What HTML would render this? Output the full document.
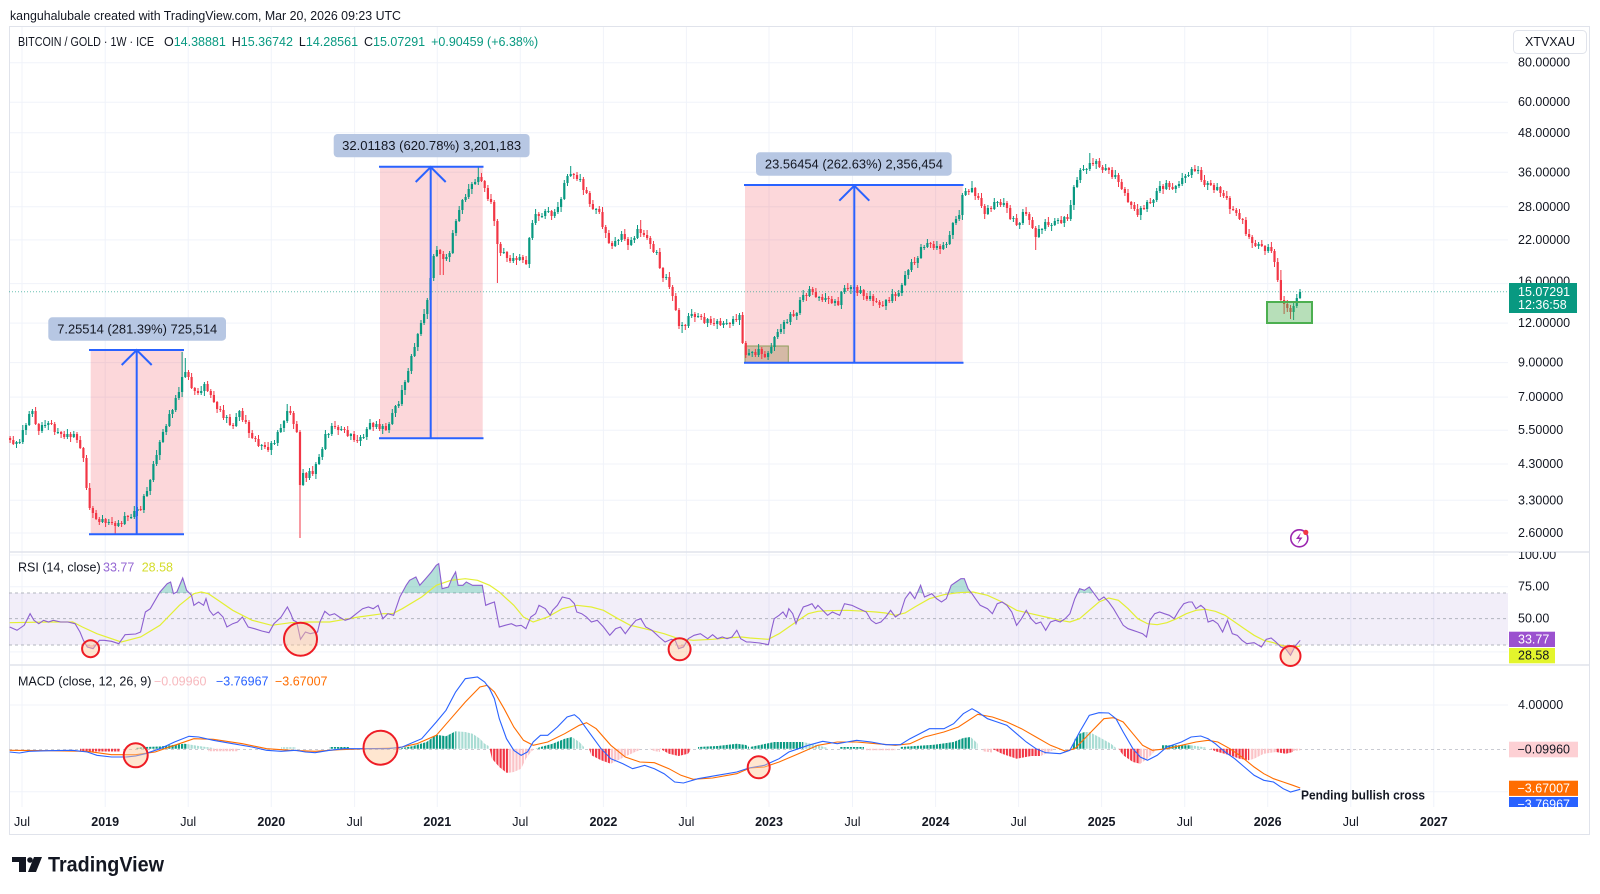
<!DOCTYPE html>
<html><head><meta charset="utf-8">
<style>
html,body{margin:0;padding:0;background:#fff;}
svg{display:block;font-family:"Liberation Sans",Arial,sans-serif;}
</style></head><body>
<svg width="1600" height="894" viewBox="0 0 1600 894" xmlns="http://www.w3.org/2000/svg">
<defs>
<clipPath id="cpRsi"><rect x="9" y="552" width="1499" height="113"/></clipPath>
<clipPath id="cpMacd"><rect x="9" y="665" width="1499" height="142"/></clipPath>
<clipPath id="cpAbove"><rect x="9" y="552" width="1499" height="41"/></clipPath>
<clipPath id="cpBelow"><rect x="9" y="645" width="1499" height="20"/></clipPath>
<clipPath id="cpAxisR"><rect x="1500" y="552" width="100" height="255"/></clipPath>
<pattern id="hG" x="9" y="0" width="3.185" height="20" patternUnits="userSpaceOnUse"><rect width="2.2" height="20" fill="#089981"/></pattern>
<pattern id="hGl" x="9" y="0" width="3.185" height="20" patternUnits="userSpaceOnUse"><rect width="2.2" height="20" fill="#a8dcd3"/></pattern>
<pattern id="hR" x="9" y="0" width="3.185" height="20" patternUnits="userSpaceOnUse"><rect width="2.2" height="20" fill="#f23645"/></pattern>
<pattern id="hRl" x="9" y="0" width="3.185" height="20" patternUnits="userSpaceOnUse"><rect width="2.2" height="20" fill="#fbc3c7"/></pattern>
<path id="rsiP" d="M9.7 627L17 630.3L24.2 625.3L30.1 613.7L33.9 620.3L38.8 623.7L43.6 620.3L48.5 622L53.3 620.3L60.6 622L67.9 622L75.1 623.7L80 632L83.4 640.3L87.3 647L93.1 648.7L99.4 640.3L104.2 640.3L111.5 641.3L118.8 643.7L125.1 634.7L135.7 634L140.6 632L145.4 612L150.3 608.7L160 592L167.2 583.7L170.6 582L173.5 593.7L176.9 592L182.7 578L186.6 590.3L191.5 595.3L193.9 605.3L198.7 602L203.6 605.3L206 598.7L209.4 610.3L213.3 615.3L218.1 612L223 617L226.9 627L232.7 623.7L237.5 622L242.4 617L248.2 627L254.5 628.7L261.8 631L269 632.7L273.9 623.7L281.1 617L287.4 607L290.8 613.7L293.3 620.3L296.7 622L300.5 639.3L305.4 632L310.2 633.7L317.5 632L319.9 622L324.8 611.3L329.6 615.3L334.5 613.7L339.3 617L345.1 620.3L350 618.7L356.3 613.7L362.6 608.7L368.4 607L373.2 608.7L378.1 605.3L382.9 618.7L387.8 613.7L393.6 615.3L399.9 597L406.2 585.3L409.6 580.3L415.9 577L419.8 585.3L425.6 578.7L431.4 572L436.3 565.3L438.7 563.7L442.1 588.7L448.4 587L451.8 578.7L455.6 572L458.1 585.3L462.9 585.3L466.3 582L472.6 585.3L477.5 585.3L482.3 585.3L485.7 605.3L489.6 603.7L494.4 602L499.3 627L505.1 625.3L511.4 623.7L516.2 626L521.1 625.3L525.9 628.7L530.8 617L535.6 613.7L539 605.3L545.3 608.7L550.2 615.3L552.6 610.3L557.4 605.3L562.3 597L569.6 598.7L574.4 603.7L576.8 612L581.7 613.7L586.5 617L591.4 622L597.2 620.3L603.5 627L609.8 635.3L615.6 628.7L620.5 627L625.3 633.7L630.2 627L636 620.3L640.8 618.7L645.7 627L652 630.3L659.2 637L665.1 642L671.4 639.3L675.2 640.3L678.6 648.7L683.5 647L688.3 638.7L694.1 635.3L700.4 633.7L707.7 638.7L712.6 634.7L717.4 638.7L722.3 637L727.1 638.7L732 637L736.8 630.3L740.7 638.7L746.5 642L750 642L759.7 643L768.4 644.7L771.8 628.7L774.2 618.7L779.1 615.3L783 612L786.4 617L788.8 608.7L792.7 613.7L796 623.7L798.5 617L803.3 607L808.2 605.3L812 603.7L815.4 608.7L817.9 605.3L822.7 610.3L827.6 615.3L832.4 612L839.7 615.3L844.5 603.7L851.8 605.3L859.1 608.7L866.3 612L871.2 620.3L876 623.7L880.9 622L885.7 617L890.6 610.3L895.4 617L900.3 613.7L905.1 598.7L910 592L914.8 598.7L920.6 585.3L924.5 597L931.8 593.7L936.6 598.7L941.5 602L946.3 598.7L951.2 585.3L956 582L960.9 578.7L964.3 578.7L968.1 588.7L972 593.7L975.4 598.7L980.2 605.3L987.5 608.7L992.4 613.7L997.2 603.7L1002.1 602L1006.9 605.3L1011.8 612L1016.6 625.3L1021.5 618.7L1026.3 610.3L1031.1 618.7L1036 623.7L1040.8 622L1045.7 630.3L1050.5 622L1055.4 620.3L1060.2 622L1065.1 618.7L1069.9 613.7L1074.8 598.7L1079.6 588.7L1084.5 590.3L1089.3 587L1094.2 593.7L1099 600.3L1103.9 597L1108.7 602L1113.5 608.7L1118.4 617L1123.2 625.3L1128.1 628.7L1132.9 630.3L1137.8 632L1142.6 633.7L1146.5 637L1149.9 620.3L1154.7 613.7L1159.6 612L1164.4 613.7L1169.3 615.3L1174.1 618.7L1179 610.3L1183.8 603.7L1188.7 602L1192.1 602L1196 608.7L1200.8 605.3L1204.7 608.7L1208.1 622L1212.9 620.3L1217.8 623.7L1222.6 632L1227.5 620.3L1232.3 633.7L1237.2 635.3L1242 640.3L1246.8 643.7L1254.1 642.7L1261.4 647L1266.2 639.3L1271.1 638L1275.9 642L1280.8 647L1285.6 648.7L1290.5 655.3L1295.3 646L1300.2 640.3"/>
</defs>
<rect width="1600" height="894" fill="#fff"/>

<text x="10" y="15.5" font-size="13" fill="#131722" dominant-baseline="central" textLength="391" lengthAdjust="spacingAndGlyphs">kanguhalubale created with TradingView.com, Mar 20, 2026 09:23 UTC</text>

<!-- grid -->
<path fill="none" stroke="#f0f3fa" stroke-width="1" d="M22 27V807M105.2 27V807M188.2 27V807M271.3 27V807M354.6 27V807M437.3 27V807M520.3 27V807M603.4 27V807M686.4 27V807M769 27V807M852.5 27V807M935.6 27V807M1018.6 27V807M1101.6 27V807M1184.7 27V807M1267.7 27V807M1350.8 27V807M1433.8 27V807M9 62.7H1508M9 102.2H1508M9 132.8H1508M9 172.3H1508M9 206.8H1508M9 239.9H1508M9 283.6H1508M9 323.1H1508M9 362.6H1508M9 397.1H1508M9 430.2H1508M9 464H1508M9 500.3H1508M9 533H1508M9 555H1508M9 586.7H1508M9 651.9H1508M9 705H1508M9 791.8H1508"/>

<rect x="9.5" y="26.5" width="1580" height="808" fill="none" stroke="#e0e3eb" stroke-width="1"/>
<line x1="9" y1="552" x2="1590" y2="552" stroke="#e0e3eb" stroke-width="1.5"/>
<line x1="9" y1="665" x2="1590" y2="665" stroke="#e0e3eb" stroke-width="1.5"/>

<!-- measurement boxes -->
<rect x="90.7" y="350" width="92.6" height="184.3" fill="rgba(242,54,69,0.2)"/>
<rect x="380" y="166.7" width="102.7" height="271.6" fill="rgba(242,54,69,0.2)"/>
<rect x="745" y="185" width="217.7" height="177.7" fill="rgba(242,54,69,0.2)"/>
<rect x="745" y="346" width="43.3" height="16.7" fill="rgba(140,130,70,0.35)" stroke="#8f9d5a" stroke-width="1"/>
<line x1="9" y1="291.8" x2="1508" y2="291.8" stroke="#089981" stroke-width="1" stroke-dasharray="1,2" opacity="0.6"/>

<!-- candles -->
<path fill="none" stroke="#089981" stroke-width="1" d="M16.5 441V448M19.7 439V444M22.8 425V444M26 423V435M29.2 411V426M32.4 409V417M42 422V433M45.1 420V428M48.3 421V430M57.9 428V434M67.4 429V439M73.8 431V438M102.5 515V523M108.8 519V525M118.4 520V527M124.7 512V525M131.1 514V519M134.3 506V519M137.5 507V516M143.9 494V513M147 487V497M150.2 479V495M153.4 461V482M156.6 450V466M159.8 440V460M163 429V443M166.2 424V435M169.4 410V427M172.5 409V418M175.7 395V412M178.9 387V400M182.1 352V397M185.3 358V378M201.2 386V395M204.4 382V396M226.7 415V423M236.2 413V427M239.4 410V421M261.7 444V450M271.3 441V455M274.5 440V445M277.7 430V446M280.8 424V433M284 420V432M287.2 404V423M303.1 469V486M309.5 468V480M315.9 462V479M319.1 454V465M322.3 447V460M325.4 430V450M328.6 433V438M331.8 423V436M341.3 426V431M350.9 433V440M360.5 435V446M363.6 434V439M366.8 427V440M370 419V430M376.4 421V429M382.7 424V434M389.1 422V433M392.3 409V425M395.5 405V417M398.7 401V408M401.9 385V406M405 380V395M408.2 368V383M411.4 354V374M414.6 343V357M417.8 333V351M421 320V336M424.1 309V325M427.3 298V319M430.5 275V301M433.7 254V281M436.9 246V257M446.4 254V261M449.6 251V262M452.8 230V254M456 219V236M459.2 206V222M462.4 199V214M465.6 194V202M468.7 184V199M471.9 182V194M475.1 179V185M478.3 167V185M503.8 248V254M513.3 253V263M519.7 254V261M529.3 237V268M532.4 220V240M535.6 209V225M542 213V218M545.2 209V219M548.4 207V213M554.7 209V218M557.9 202V214M561.1 197V212M564.3 180V200M567.5 174V186M570.7 166V177M580.2 174V182M596.1 208V214M615.2 237V247M618.4 239V245M621.6 231V242M631.2 237V246M634.4 236V243M637.5 225V239M656.7 250V255M666.2 274V280M682.1 322V333M688.5 313V328M691.7 309V318M698.1 313V318M707.6 318V327M717.2 319V329M723.5 321V328M726.7 319V325M733.1 316V326M739.5 313V325M749 349V356M752.2 351V357M758.6 344V357M768.1 351V360M771.3 343V354M774.5 336V351M777.7 329V339M780.9 324V334M784 320V334M787.2 319V324M790.4 312V325M796.8 312V320M800 297V315M803.2 290V302M809.5 286V297M819.1 296V301M825.5 293V302M835 299V306M841.4 291V309M844.6 285V294M850.9 285V294M860.5 286V294M870.1 291V301M886 299V310M892.3 289V303M898.7 290V297M901.9 283V296M905.1 271V286M908.3 269V279M911.5 259V272M917.8 256V268M921 244V259M924.2 245V250M927.4 239V248M936.9 241V250M943.3 242V250M946.5 242V248M949.7 231V245M952.9 222V239M956 216V225M959.2 210V221M962.4 193V220M965.6 188V196M972 181V193M987.9 205V215M994.3 198V210M997.5 201V207M1003.8 198V207M1013.4 216V222M1019.7 222V229M1022.9 209V225M1038.9 225V238M1042 228V234M1045.2 219V231M1051.6 223V231M1054.8 218V226M1058 218V224M1064.3 216V227M1070.7 200V221M1073.9 185V210M1077.1 177V188M1080.3 168V183M1083.5 165V171M1086.6 168V174M1089.8 153V171M1096.2 159V169M1105.7 164V171M1115.3 170V179M1140.8 206V220M1147.1 200V212M1153.5 199V207M1156.7 188V202M1159.9 181V193M1166.3 180V190M1175.8 185V193M1179 181V188M1182.2 173V186M1185.4 174V183M1188.5 172V177M1191.7 167V178M1198.1 166V174M1207.7 181V190M1217.2 183V191M1258.6 242V249M1268.2 244V253M1293.6 303V320M1296.8 294V308M1300 289V299"/>
<path fill="none" stroke="#089981" stroke-width="2.2" d="M16.5 444V442M19.7 442V443M22.8 442V430M26 430V425M29.2 425V414M32.4 414V411M42 431V425M45.1 425V426M48.3 425V423M57.9 432V433M67.4 437V434M73.8 437V434M102.5 522V519M108.8 523V522M118.4 526V523M124.7 524V516M131.1 517V518M134.3 517V511M137.5 511V509M143.9 510V496M147 496V491M150.2 491V480M153.4 480V464M156.6 464V455M159.8 455V442M163 442V432M166.2 432V426M169.4 426V414M172.5 414V410M175.7 410V398M178.9 398V392M182.1 392V377M185.3 377V372M201.2 393V391M204.4 391V384M226.7 418V417M236.2 426V417M239.4 417V411M261.7 446V445M271.3 450V443M274.5 443V444M277.7 443V432M280.8 432V428M284 428V421M287.2 421V411M303.1 485V473M309.5 478V471M315.9 474V464M319.1 464V457M322.3 457V449M325.4 449V434M328.6 434V435M331.8 434V426M341.3 430V429M350.9 436V434M360.5 441V437M363.6 437V438M366.8 437V429M370 429V423M376.4 427V424M382.7 429V426M389.1 430V424M392.3 424V413M395.5 413V406M398.7 406V404M401.9 404V390M405 390V382M408.2 382V371M411.4 371V356M414.6 356V347M417.8 347V334M421 334V323M424.1 323V314M427.3 314V300M430.5 300V278M433.7 278V256M436.9 256V250M446.4 259V257M449.6 257V253M452.8 253V233M456 233V221M459.2 221V210M462.4 210V200M465.6 200V197M468.7 197V189M471.9 189V184M475.1 184V182M478.3 182V177M503.8 253V252M513.3 261V258M519.7 260V257M529.3 264V238M532.4 238V223M535.6 223V214M542 216V217M545.2 216V211M548.4 211V212M554.7 216V212M557.9 212V207M561.1 207V199M564.3 199V183M567.5 183V176M570.7 176V174M580.2 179V180M596.1 209V210M615.2 246V241M618.4 241V240M621.6 240V234M631.2 245V240M634.4 240V238M637.5 238V229M656.7 252V253M666.2 278V277M682.1 326V325M688.5 326V316M691.7 316V314M698.1 317V316M707.6 323V319M717.2 324V321M723.5 325V323M726.7 323V324M733.1 324V319M739.5 320V315M749 355V353M752.2 353V352M758.6 355V349M768.1 357V353M771.3 353V347M774.5 347V337M777.7 337V332M780.9 332V329M784 329V322M787.2 322V323M790.4 322V314M796.8 316V313M800 313V300M803.2 300V295M809.5 296V289M819.1 297V298M825.5 300V298M835 303V301M841.4 305V292M844.6 292V288M850.9 289V287M860.5 293V290M870.1 299V296M886 306V300M892.3 301V294M898.7 296V293M901.9 293V285M905.1 285V275M908.3 275V270M911.5 270V262M917.8 263V258M921 258V247M924.2 247V248M927.4 247V243M936.9 248V246M943.3 249V245M946.5 245V244M949.7 244V235M952.9 235V223M956 223V219M959.2 219V215M962.4 215V195M965.6 195V191M972 192V188M987.9 214V208M994.3 209V202M997.5 202V203M1003.8 205V203M1013.4 219V218M1019.7 225V223M1022.9 223V212M1038.9 237V229M1042 229V230M1045.2 229V222M1051.6 225V226M1054.8 225V221M1058 221V220M1064.3 223V217M1070.7 219V205M1073.9 205V187M1077.1 187V180M1080.3 180V170M1083.5 170V169M1086.6 169V170M1089.8 169V163M1096.2 164V161M1105.7 170V168M1115.3 177V175M1140.8 215V208M1147.1 209V202M1153.5 203V200M1156.7 200V191M1159.9 191V186M1166.3 189V183M1175.8 189V186M1179 186V184M1182.2 184V178M1185.4 178V176M1188.5 176V175M1191.7 175V169M1198.1 171V170M1207.7 185V183M1217.2 190V187M1258.6 246V244M1268.2 251V247M1293.6 312V306M1296.8 306V298M1300 298V292"/>
<path fill="none" stroke="#f23645" stroke-width="1" d="M10.1 436V443M13.3 436V445M35.6 407V425M38.8 423V435M51.5 420V425M54.7 422V435M61.1 431V438M64.2 431V439M70.6 432V442M77 432V443M80.2 436V449M83.4 447V462M86.5 455V490M89.7 483V510M92.9 506V518M96.1 510V520M99.3 517V525M105.6 518V527M112 517V525M115.2 521V534M121.6 521V527M127.9 515V521M140.7 506V511M188.5 370V380M191.6 373V389M194.8 387V395M198 388V395M207.6 381V392M210.8 389V398M213.9 391V403M217.1 401V413M220.3 406V412M223.5 405V420M229.9 414V426M233.1 423V429M242.6 408V422M245.8 415V424M249 420V438M252.2 430V439M255.4 436V442M258.5 435V447M264.9 442V449M268.1 442V452M290.4 406V415M293.6 411V429M296.8 421V433M300 430V538M306.3 472V482M312.7 466V476M335 421V429M338.2 425V435M344.5 427V433M347.7 426V437M354.1 431V442M357.3 435V443M373.2 422V431M379.6 419V431M385.9 423V431M440.1 249V275M443.3 251V275M481.5 173V182M484.7 180V192M487.9 185V201M491 194V204M494.2 200V226M497.4 219V283M500.6 242V256M507 251V262M510.1 255V263M516.5 256V265M522.9 255V263M526.1 256V265M538.8 212V221M551.6 210V220M573.8 173V179M577 172V181M583.4 177V195M586.6 187V194M589.8 191V207M592.9 200V210M599.3 206V214M602.5 207V229M605.7 225V238M608.9 230V244M612.1 241V249M624.8 229V241M628 237V250M640.7 220V237M643.9 230V237M647.1 230V240M650.3 236V249M653.5 241V253M659.8 248V269M663 267V282M669.4 272V289M672.6 285V301M675.8 293V311M679 308V329M685.3 324V330M694.9 312V322M701.2 314V320M704.4 313V324M710.8 316V325M714 318V326M720.4 318V326M729.9 322V328M736.3 314V322M742.6 312V344M745.8 341V358M755.4 349V357M761.8 347V359M764.9 351V358M793.6 310V317M806.4 293V301M812.7 287V295M815.9 288V298M822.3 294V302M828.6 296V304M831.8 296V304M838.2 297V306M847.8 283V291M854.1 227V327M857.3 285V296M863.7 289V300M866.9 293V301M873.2 294V306M876.4 298V303M879.6 300V308M882.8 301V307M889.2 297V303M895.5 292V301M914.6 257V265M930.6 242V248M933.7 241V250M940.1 244V254M968.8 189V195M975.2 187V200M978.3 193V200M981.5 193V208M984.7 204V219M991.1 206V212M1000.6 199V207M1007 201V213M1010.2 205V220M1016.6 214V226M1026.1 207V216M1029.3 212V225M1032.5 217V229M1035.7 226V250M1048.4 217V227M1061.2 216V224M1067.5 214V221M1093 158V166M1099.4 158V168M1102.6 165V173M1108.9 167V174M1112.1 167V179M1118.5 173V187M1121.7 179V190M1124.9 187V196M1128 189V203M1131.2 201V209M1134.4 202V211M1137.6 204V217M1144 205V210M1150.3 198V204M1163.1 184V194M1169.4 181V190M1172.6 183V190M1194.9 165V172M1201.3 167V182M1204.5 175V187M1210.8 180V186M1214 183V193M1220.4 186V197M1223.6 190V198M1226.8 191V200M1229.9 196V214M1233.1 206V211M1236.3 208V216M1239.5 209V220M1242.7 218V224M1245.9 217V236M1249.1 229V239M1252.2 235V248M1255.4 240V247M1261.8 240V247M1265 245V255M1271.4 242V253M1274.5 249V267M1277.7 258V282M1280.9 270V303M1284.1 296V314M1287.3 300V312M1290.5 305V319"/>
<path fill="none" stroke="#f23645" stroke-width="2.2" d="M10.1 438V440M13.3 440V444M35.6 411V424M38.8 424V431M51.5 423V424M54.7 424V432M61.1 432V434M64.2 434V437M70.6 434V437M77 434V440M80.2 440V448M83.4 448V458M86.5 458V488M89.7 488V508M92.9 508V513M96.1 513V519M99.3 519V522M105.6 519V523M112 522V523M115.2 523V526M121.6 523V524M127.9 516V517M140.7 509V510M188.5 372V377M191.6 377V388M194.8 388V391M198 391V393M207.6 384V391M210.8 391V395M213.9 395V402M217.1 402V409M220.3 409V410M223.5 410V418M229.9 417V425M233.1 425V426M242.6 411V420M245.8 420V422M249 422V433M252.2 433V438M255.4 438V439M258.5 439V446M264.9 445V447M268.1 447V450M290.4 411V413M293.6 413V424M296.8 424V432M300 432V485M306.3 473V478M312.7 471V474M335 426V427M338.2 427V430M344.5 429V430M347.7 430V436M354.1 434V440M357.3 440V441M373.2 423V427M379.6 424V429M385.9 426V430M440.1 250V254M443.3 254V259M481.5 177V181M484.7 181V188M487.9 188V199M491 199V202M494.2 202V221M497.4 221V244M500.6 244V253M507 252V258M510.1 258V261M516.5 258V260M522.9 257V260M526.1 260V264M538.8 214V216M551.6 211V216M573.8 174V175M577 175V179M583.4 179V190M586.6 190V193M589.8 193V204M592.9 204V209M599.3 209V212M602.5 212V227M605.7 227V233M608.9 233V243M612.1 243V246M624.8 234V239M628 239V245M640.7 229V233M643.9 233V235M647.1 235V238M650.3 238V244M653.5 244V252M659.8 252V268M663 268V278M669.4 277V287M672.6 287V296M675.8 296V310M679 310V326M685.3 325V326M694.9 314V317M701.2 316V317M704.4 317V323M710.8 319V323M714 323V324M720.4 321V325M729.9 323V324M736.3 319V320M742.6 315V343M745.8 343V355M755.4 352V355M761.8 349V354M764.9 354V357M793.6 314V316M806.4 295V296M812.7 289V292M815.9 292V297M822.3 297V300M828.6 298V299M831.8 299V303M838.2 301V305M847.8 288V289M854.1 287V289M857.3 287V293M863.7 290V296M866.9 296V299M873.2 296V301M876.4 301V302M879.6 302V305M882.8 305V306M889.2 300V301M895.5 294V296M914.6 262V263M930.6 243V244M933.7 244V248M940.1 246V249M968.8 191V192M975.2 188V196M978.3 196V198M981.5 198V206M984.7 206V214M991.1 208V209M1000.6 202V205M1007 203V208M1010.2 208V219M1016.6 218V225M1026.1 212V214M1029.3 214V220M1032.5 220V228M1035.7 228V237M1048.4 222V225M1061.2 220V223M1067.5 217V219M1093 163V164M1099.4 161V167M1102.6 167V170M1108.9 168V170M1112.1 170V177M1118.5 175V182M1121.7 182V189M1124.9 189V193M1128 193V202M1131.2 202V205M1134.4 205V209M1137.6 209V215M1144 208V209M1150.3 202V203M1163.1 186V189M1169.4 183V187M1172.6 187V189M1194.9 169V171M1201.3 170V180M1204.5 180V185M1210.8 183V185M1214 185V190M1220.4 187V193M1223.6 193V196M1226.8 196V198M1229.9 198V209M1233.1 209V210M1236.3 210V213M1239.5 213V219M1242.7 219V220M1245.9 220V234M1249.1 234V237M1252.2 237V243M1255.4 243V246M1261.8 244V246M1265 246V251M1271.4 247V251M1274.5 251V262M1277.7 262V280M1280.9 280V300M1284.1 300V304M1287.3 304V308M1290.5 308V312"/>

<rect x="1267" y="302" width="45" height="21" fill="rgba(76,175,80,0.4)" stroke="#4caf50" stroke-width="2"/>

<!-- measurement lines -->
<g stroke="#2962ff" stroke-width="2" fill="none">
<line x1="89" y1="350" x2="184" y2="350"/><line x1="89" y1="534.3" x2="184" y2="534.3"/>
<line x1="136.7" y1="534.3" x2="136.7" y2="351"/><polyline points="121.7,365 136.7,350 151.7,365"/>
<line x1="379" y1="166.7" x2="483.5" y2="166.7"/><line x1="379" y1="438.3" x2="483.5" y2="438.3"/>
<line x1="430.7" y1="438.3" x2="430.7" y2="168"/><polyline points="415.7,182 430.7,167 445.7,182"/>
<line x1="744" y1="185" x2="963.5" y2="185"/><line x1="744" y1="362.7" x2="963.5" y2="362.7"/>
<line x1="854.3" y1="362.7" x2="854.3" y2="186.5"/><polyline points="839.3,200.7 854.3,185.7 869.3,200.7"/>
</g>
<g font-size="13" fill="#131722">
<rect x="48.3" y="317.3" width="177.7" height="23.4" rx="4" fill="#b7c7e3"/>
<text x="137.2" y="329" text-anchor="middle" dominant-baseline="central" textLength="160" lengthAdjust="spacingAndGlyphs">7.25514 (281.39%) 725,514</text>
<rect x="333.7" y="134" width="195.9" height="23.3" rx="4" fill="#b7c7e3"/>
<text x="431.6" y="145.7" text-anchor="middle" dominant-baseline="central" textLength="179" lengthAdjust="spacingAndGlyphs">32.01183 (620.78%) 3,201,183</text>
<rect x="756" y="152.3" width="195.7" height="23.4" rx="4" fill="#b7c7e3"/>
<text x="853.9" y="164" text-anchor="middle" dominant-baseline="central" textLength="178" lengthAdjust="spacingAndGlyphs">23.56454 (262.63%) 2,356,454</text>
</g>

<!-- legend -->
<g font-size="12.5" dominant-baseline="central">
<text x="18" y="42" fill="#131722" textLength="136" lengthAdjust="spacingAndGlyphs">BITCOIN / GOLD · 1W · ICE</text>
<text x="164" y="42" fill="#131722">O</text><text x="173.7" y="42" fill="#089981">14.38881</text>
<text x="231.8" y="42" fill="#131722">H</text><text x="240.8" y="42" fill="#089981">15.36742</text>
<text x="298.9" y="42" fill="#131722">L</text><text x="305.9" y="42" fill="#089981">14.28561</text>
<text x="364" y="42" fill="#131722">C</text><text x="373" y="42" fill="#089981">15.07291</text>
<text x="431.1" y="42" fill="#089981">+0.90459 (+6.38%)</text>
</g>

<rect x="1513.5" y="30.5" width="73" height="23" rx="4" fill="#fff" stroke="#e0e3eb"/>
<text x="1550" y="42" font-size="12.5" fill="#131722" text-anchor="middle" dominant-baseline="central">XTVXAU</text>

<!-- price axis -->
<g font-size="12.5" fill="#131722" dominant-baseline="central">
<text x="1518" y="62.7">80.00000</text>
<text x="1518" y="102.2">60.00000</text>
<text x="1518" y="132.8">48.00000</text>
<text x="1518" y="172.3">36.00000</text>
<text x="1518" y="206.8">28.00000</text>
<text x="1518" y="239.9">22.00000</text>
<text x="1518" y="281.6">16.00000</text>
<text x="1518" y="323.1">12.00000</text>
<text x="1518" y="362.6">9.00000</text>
<text x="1518" y="397.1">7.00000</text>
<text x="1518" y="430.2">5.50000</text>
<text x="1518" y="464">4.30000</text>
<text x="1518" y="500.3">3.30000</text>
<text x="1518" y="533">2.60000</text>
</g>
<rect x="1509" y="283" width="68" height="30" fill="#089981"/>
<text x="1518" y="292" font-size="12.5" fill="#fff" dominant-baseline="central">15.07291</text>
<text x="1518" y="305" font-size="12.5" fill="#fff" dominant-baseline="central">12:36:58</text>

<circle cx="1299.3" cy="538.3" r="8.5" fill="#fff" stroke="#9c27b0" stroke-width="1.6"/>
<path d="M1301,532.5 L1296,539 L1299.5,539 L1297.5,544 L1302.5,537.5 L1299,537.5 Z" fill="#9c27b0"/>
<circle cx="1305.8" cy="532.4" r="2.6" fill="#f23645"/>

<!-- RSI pane -->
<rect x="9" y="593" width="1499" height="52" fill="rgba(126,87,194,0.1)"/>
<g stroke="#b2b5be" stroke-width="1" stroke-dasharray="3,3">
<line x1="9" y1="593" x2="1508" y2="593"/><line x1="9" y1="618.6" x2="1508" y2="618.6"/><line x1="9" y1="645" x2="1508" y2="645"/>
</g>
<g clip-path="url(#cpRsi)">
<use href="#rsiP" fill="rgba(8,153,129,0.3)" clip-path="url(#cpAbove)"/>
<use href="#rsiP" fill="rgba(242,54,69,0.3)" clip-path="url(#cpBelow)"/>
<polyline fill="none" stroke="#e3ef34" stroke-width="1.2" points="9.7,622.7 48.5,622 72.7,622 82.4,627 96.9,633.7 121.2,642 140.6,637 160,625.3 179.4,605.3 193.9,593.7 201.2,592 208.4,593.7 218.1,600.3 232.7,610.3 252.1,620.3 271.5,625.3 290.8,622.7 310.2,622 329.6,622 339.3,620.3 358.7,617 382.9,613.7 392.6,613.7 402.3,608.7 421.7,597 436.3,585.3 450.8,580.3 465.3,578.7 477.5,580.3 489.6,585.3 499.3,592 513.8,605.3 523.5,617 533.2,622 547.7,617 562.3,608.7 576.8,605.3 591.4,607 603.5,610.3 618,618.7 630.2,625.3 644.7,628.7 664.1,633.7 678.6,638.7 693.2,640.3 712.6,639.3 727.1,638 741.6,637 750,638 768.4,639.3 779.1,633.7 788.8,627 798.5,620.3 808.2,613.7 817.9,611.3 827.6,610.7 846.9,610.3 866.3,611.3 876,612 885.7,613 895.4,615.3 905.1,613 914.8,607 929.4,598.7 943.9,594.7 958.4,592.7 973,592 987.5,595.3 1002.1,602 1016.6,610.3 1031.1,613.7 1045.7,617 1060.2,620.3 1069.9,622 1079.6,618.7 1089.3,610.3 1099,602 1108.7,598 1118.4,600.3 1128.1,608.7 1137.8,618.7 1147.5,623.7 1157.2,624.7 1166.9,622.7 1176.6,618.7 1186.3,613.7 1196,610.3 1205.6,609.3 1215.3,611.3 1225,615.3 1234.7,622 1244.4,628.7 1254.1,635.3 1263.8,640.3 1273.5,642.7 1283.2,646 1292.9,646.3 1300.2,646.3"/>
<use href="#rsiP" fill="none" stroke="#8c5fd0" stroke-width="1.1"/>
</g>
<g font-size="12.5" dominant-baseline="central">
<text x="18" y="567.3" fill="#131722">RSI (14, close)</text>
<text x="103" y="567.3" fill="#9567d3">33.77</text>
<text x="141.7" y="567.3" fill="#d4dc2a">28.58</text>
</g>
<g clip-path="url(#cpAxisR)" font-size="12.5" dominant-baseline="central">
<text x="1518" y="555" fill="#131722">100.00</text>
<text x="1518" y="586.7" fill="#131722">75.00</text>
<text x="1518" y="618.3" fill="#131722">50.00</text>
<rect x="1509" y="631.7" width="46" height="15.3" fill="#9b51cf"/>
<text x="1518" y="639.3" fill="#fff">33.77</text>
<rect x="1509" y="648" width="46" height="15.3" fill="#e3f52c"/>
<text x="1518" y="655.7" fill="#131722">28.58</text>
</g>
<g fill="rgba(255,200,150,0.45)" stroke="#ee1c25" stroke-width="2">
<circle cx="90.6" cy="648.7" r="8.5"/>
<circle cx="300.5" cy="639.3" r="16.5"/>
<circle cx="679.6" cy="649.3" r="11"/>
<circle cx="1290.5" cy="656" r="10"/>
</g>

<!-- MACD pane -->
<line x1="9" y1="749.5" x2="1508" y2="749.5" stroke="#c9cbd2" stroke-width="1" stroke-dasharray="3,3"/>
<g clip-path="url(#cpMacd)">
<path fill="url(#hG)" d="M135.7 748.7L135.7 748L145 747L160 746.5L174.5 744.7L184 743.7L186.6 744L186.6 748.7ZM329.6 748.7L329.6 747L349 747L349 748.7ZM397.5 748.7L412 746.3L426.6 742L436.3 734.7L446 736.3L455.6 731.3L455.6 748.7ZM535.6 748.7L540.5 747L552.6 743.7L564.7 738.7L572 737L572 748.7ZM698 748.7L698 747L717.4 746L736.8 743.7L746 745L749 747L749 748.7ZM750 748.7L750 747L774.2 742L803 742L803 748.7ZM839.7 748.7L839.7 747L864 747L864 748.7ZM900.3 748.7L900.3 747L934 744.7L953.6 742L963.3 738L970.6 737L970.6 748.7ZM1072.3 748.7L1074.8 738.7L1079.6 733.7L1084.5 732L1084.5 748.7ZM1162 748.7L1162 745.3L1191 745.3L1191 748.7Z"/>
<path fill="url(#hGl)" d="M186.6 748.7L186.6 744L198.7 746L213.3 748L213.3 748.7ZM281 748.7L281 747.3L296 747.3L296 748.7ZM455.6 748.7L455.6 731.3L465.3 732L472.6 733.7L480 738.7L484.7 743.7L488.6 746L488.6 748.7ZM572 748.7L572 737L579.3 742L584 747L584 748.7ZM803 748.7L803 742L817.9 745.3L827.6 748L827.6 748.7ZM970.6 748.7L970.6 737L977.8 743.7L977.8 748.7ZM1084.5 748.7L1084.5 732L1089.3 732L1099 737L1111 743.7L1116 748L1116 748.7ZM1191 748.7L1191 745.3L1205.6 747.5L1205.6 748.7Z"/>
<path fill="url(#hR)" d="M80 748.7L80 751.5L120 751.5L120 748.7ZM489.6 748.7L492 758.7L499.3 767L506.5 772.7L509 772.7L509 748.7ZM589 748.7L591.4 755.3L601.1 760.3L610.8 763.7L610.8 748.7ZM660 748.7L668.9 753.7L678.6 756L688 753.7L690.7 750L690.7 748.7ZM992 748.7L1002 753.7L1016.6 758.7L1031.1 756L1040.8 756L1040.8 748.7ZM1118.4 748.7L1123.2 755.3L1132.9 762L1140.2 763.7L1140.2 748.7ZM1210.5 748.7L1215.3 751.3L1229.9 755.3L1239.6 758.7L1249 760.3L1249 748.7ZM1276 748.7L1276 752L1285.6 753.7L1293 752L1293 748.7Z"/>
<path fill="url(#hRl)" d="M208 748.7L208 751.3L237.5 751.3L237.5 748.7ZM509 748.7L509 772.7L513.8 772L521.1 768.7L525.9 758.7L530.8 752L533.2 750L533.2 748.7ZM610.8 748.7L610.8 763.7L618 760.3L625.3 756.5L635 752L640 750L640 748.7ZM649.5 748.7L654 751L660 752L660 748.7ZM866 748.7L866 750.3L895.4 750.3L895.4 748.7ZM982.7 748.7L982.7 751.3L992 752.5L992 748.7ZM1040.8 748.7L1040.8 756L1053 750.3L1053 748.7ZM1140.2 748.7L1140.2 763.7L1147.5 758.7L1154.7 751.3L1154.7 748.7ZM1249 748.7L1249 760.3L1254.1 758.7L1263.8 753.7L1276 752L1276 748.7ZM1293 748.7L1293 751L1300.2 750.3L1300.2 748.7Z"/>
<polyline fill="none" stroke="#ff6d00" stroke-width="1.1" points="9.7,750.3 48.5,750.7 87.3,751.3 111.5,754.7 135.7,754.7 155.1,752 174.5,745.3 193.9,738.7 213.3,739.3 242.4,743.7 266.6,748.7 290.8,750.3 315.1,751.3 339.3,749.7 368.4,748.7 397.5,748 416.9,743.7 436.3,735.3 450.8,718.7 465.3,702 479.9,687 487.2,685.3 494.4,692 504.1,708.7 513.8,727 523.5,740.3 533.2,745.3 547.7,742 564.7,733.7 579.3,725.3 586.5,722.7 596.2,728.7 610.8,745.3 625.3,757 639.8,762 654.4,762.7 668.9,768.7 681,775.3 693.2,779.3 712.6,778 736.8,773.7 750,768 764.5,767 779.1,762 798.5,753.7 817.9,745.3 837.3,742 856.6,742 876,743.7 895.4,745.3 910,743.7 924.5,737 943.9,732 958.4,727 977.8,714.3 992.4,717 1006.9,722 1021.5,728.7 1036,737 1050.5,745.3 1065.1,751 1074.8,748.7 1089.3,733.7 1103.9,718.7 1113.5,717.7 1123.2,722 1132.9,733.7 1142.6,745.3 1152.3,750.3 1166.9,748.7 1181.4,745.3 1196,742 1208.1,740.3 1217.8,742 1229.9,748.7 1239.6,755.3 1254.1,767 1263.8,773.7 1273.5,778.7 1283.2,782 1292.9,785.3 1300.2,788"/>
<polyline fill="none" stroke="#2962ff" stroke-width="1.1" points="9.7,752 19.4,753 29.1,751.3 48.5,750.7 72.7,750.3 87.3,752 96.9,755.3 111.5,757 126,757 135.7,756 145.4,753.7 160,748.7 174.5,742 189,736.3 198.7,737 213.3,740.3 232.7,743.7 252.1,747 266.6,750.3 281.1,751.3 295.7,750.3 305.4,752 315.1,752.7 329.6,750.3 344.2,748.7 363.5,748.7 387.8,748.7 402.3,747 421.7,738.7 436.3,722 446,710.3 455.6,692 465.3,678.7 477.5,677 484.7,682 489.6,688.7 494.4,698.7 499.3,718.7 506.5,738.7 513.8,750.3 521.1,755.3 527.4,752 533.2,742 540.5,735.3 547.7,735.3 557.4,727 567.1,717 574.4,714.7 579.3,718.7 586.5,728.7 593.8,738.7 601.1,748.7 610.8,758.7 622.9,763.7 632.6,768.7 644.7,765.3 654.4,768.7 664.1,773.7 674.7,782 683.5,783 698,778.7 717.4,775.3 736.8,772 748.9,768 764.5,765.3 779.1,758.7 788.8,752 798.5,748.7 808.2,745.3 822.7,741.3 837.3,743.7 846.9,742 856.6,740.3 871.2,742 885.7,744.7 900.3,744.7 910,738.7 919.7,733.7 929.4,728.7 943.9,728.7 953.6,723.7 963.3,713.7 972,708.7 977.8,712 987.5,718.7 997.2,722 1006.9,725.3 1016.6,733.7 1026.3,742 1036,748.7 1045.7,752.7 1060.2,753.7 1069.9,750.3 1079.6,732 1089.3,715.3 1099,712.7 1108.7,713 1116,718.7 1123.2,732 1132.9,748.7 1140.2,757 1147.5,760.3 1157.2,755.3 1166.9,747 1181.4,742 1191.1,737 1200.8,736 1208.1,738.7 1215.3,743.7 1225,752 1234.7,758.7 1244.4,767 1254.1,775.3 1263.8,780.3 1273.5,782 1283.2,788.7 1290.5,792 1300.2,789.3"/>
</g>
<g font-size="12.5" dominant-baseline="central">
<text x="18" y="681.5" fill="#131722">MACD (close, 12, 26, 9)</text>
<text x="154" y="681.5" fill="#f7b9be">−0.09960</text>
<text x="216" y="681.5" fill="#2962ff">−3.76967</text>
<text x="275" y="681.5" fill="#ff6d00">−3.67007</text>
</g>
<g fill="rgba(255,200,150,0.45)" stroke="#ee1c25" stroke-width="2">
<circle cx="135.7" cy="755.3" r="12"/>
<circle cx="380.5" cy="747.7" r="17"/>
<circle cx="758.7" cy="767.3" r="11"/>
</g>
<text x="1301" y="795" font-size="13" font-weight="bold" fill="#131722" dominant-baseline="central" textLength="124" lengthAdjust="spacingAndGlyphs">Pending bullish cross</text>
<g clip-path="url(#cpAxisR)" font-size="12.5" dominant-baseline="central">
<text x="1518" y="705" fill="#131722">4.00000</text>
<rect x="1509" y="741.7" width="69" height="15.6" fill="#fdd0d4"/>
<text x="1517.5" y="749.5" fill="#131722">−0.09960</text>
<rect x="1509" y="780.7" width="69" height="15.2" fill="#ff6d00"/>
<text x="1517.5" y="788.3" fill="#fff">−3.67007</text>
<rect x="1509" y="797" width="69" height="15.2" fill="#2962ff"/>
<text x="1517.5" y="804.6" fill="#fff">−3.76967</text>
</g>

<!-- time axis -->
<g font-size="12.5" fill="#131722" text-anchor="middle" dominant-baseline="central">
<text x="22" y="822">Jul</text>
<text x="105.2" y="822" font-weight="bold">2019</text>
<text x="188.2" y="822">Jul</text>
<text x="271.3" y="822" font-weight="bold">2020</text>
<text x="354.6" y="822">Jul</text>
<text x="437.3" y="822" font-weight="bold">2021</text>
<text x="520.3" y="822">Jul</text>
<text x="603.4" y="822" font-weight="bold">2022</text>
<text x="686.4" y="822">Jul</text>
<text x="769" y="822" font-weight="bold">2023</text>
<text x="852.5" y="822">Jul</text>
<text x="935.6" y="822" font-weight="bold">2024</text>
<text x="1018.6" y="822">Jul</text>
<text x="1101.6" y="822" font-weight="bold">2025</text>
<text x="1184.7" y="822">Jul</text>
<text x="1267.7" y="822" font-weight="bold">2026</text>
<text x="1350.8" y="822">Jul</text>
<text x="1433.8" y="822" font-weight="bold">2027</text>
</g>

<g fill="#131722">
<path d="M12,857 H26 V872 H19 V862 H12 Z"/>
<circle cx="30" cy="860" r="2.8"/>
<path d="M34,857 H42 L36,872 H28 Z"/>
</g>
<text x="48" y="865" font-size="21" font-weight="bold" fill="#131722" dominant-baseline="central" textLength="116" lengthAdjust="spacingAndGlyphs">TradingView</text>
</svg>
</body></html>
